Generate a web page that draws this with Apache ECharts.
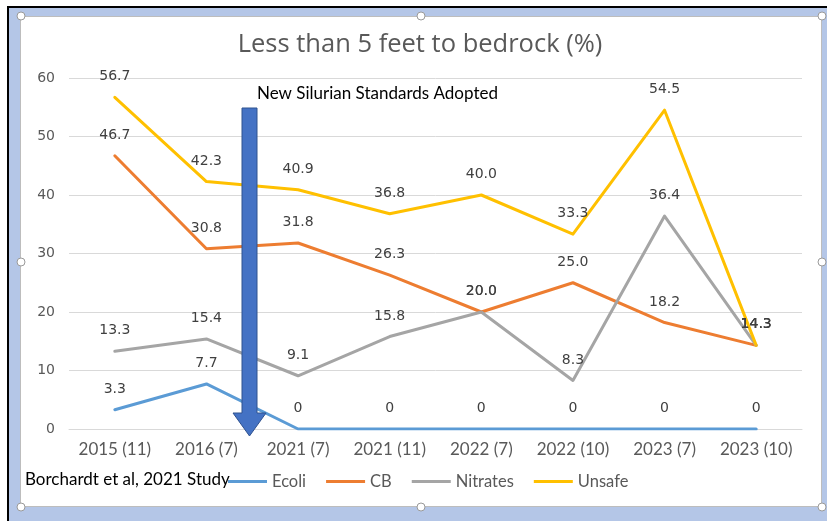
<!DOCTYPE html>
<html>
<head>
<meta charset="utf-8">
<script src="https://cdn.jsdelivr.net/npm/echarts@6/dist/echarts.min.js"></script>
<style>
html,body{margin:0;padding:0;background:#fff;}
#c{width:827px;height:521px;}
</style>
</head>
<body>
<div id="c"></div>
<script>
const categories = ['2015 (11)', '2016 (7)', '2021 (7)', '2021 (11)', '2022 (7)', '2022 (10)', '2023 (7)', '2023 (10)'];
const ecoli = [3.3, 7.7, 0, 0, 0, 0, 0, 0];
const cb = [46.7, 30.8, 31.8, 26.3, 20.0, 25.0, 18.2, 14.3];
const nitrates = [13.3, 15.4, 9.1, 15.8, 20.0, 8.3, 36.4, 14.3];
const unsafe = [56.7, 42.3, 40.9, 36.8, 40.0, 33.3, 54.5, 14.3];
const yTicks = [0, 10, 20, 30, 40, 50, 60];

const chart = echarts.init(document.getElementById('c'), null, {renderer: 'canvas'});

function mkSeries(name, data, color, fmt) {
  return {
    name: name, type: 'line', data: data,
    symbol: 'circle', symbolSize: 1, showSymbol: true,
    lineStyle: {color: color, width: 3, cap: 'round', join: 'round'},
    itemStyle: {color: color},
    emphasis: {disabled: true},
    label: {
      show: true, position: 'top', distance: 13,
      fontFamily: 'DejaVu Sans', fontSize: 14, color: '#404040',
      formatter: p => fmt(p.value)
    }
  };
}
const f1 = v => v.toFixed(1);
const fE = v => v === 0 ? '0' : v.toFixed(1);

const option = {
  animation: false,
  backgroundColor: '#fff',
  title: {
    text: 'Less than 5 feet to bedrock (%)',
    left: 415, top: 27, textAlign: 'center',
    textStyle: {fontFamily: 'Open Sans', fontSize: 25.5, fontWeight: 'normal', color: '#595959'}
  },
  grid: {left: 69, right: 25, top: 78, bottom: 92, containLabel: false},
  legend: {
    left: 223, top: 468, itemWidth: 39, itemHeight: 3, itemGap: 20, icon: 'rect',
    data: ['Ecoli', 'CB', 'Nitrates', 'Unsafe'],
    textStyle: {fontFamily: 'Lato', fontSize: 16.5, color: '#595959'}
  },
  xAxis: {
    type: 'category', data: categories, boundaryGap: true,
    axisLine: {lineStyle: {color: '#D9D9D9', width: 1}},
    axisTick: {show: false},
    axisLabel: {fontFamily: 'Lato', fontSize: 17, color: '#595959', margin: 12, interval: 0}
  },
  yAxis: {
    type: 'value', min: yTicks[0], max: yTicks[yTicks.length - 1], interval: 10,
    axisLine: {show: false}, axisTick: {show: false},
    splitLine: {lineStyle: {color: '#D9D9D9', width: 1}},
    axisLabel: {fontFamily: 'DejaVu Sans', fontSize: 14, color: '#595959', margin: 14}
  },
  series: [
    mkSeries('Ecoli', ecoli, '#5B9BD5', fE),
    mkSeries('CB', cb, '#ED7D31', f1),
    mkSeries('Nitrates', nitrates, '#A5A5A5', f1),
    mkSeries('Unsafe', unsafe, '#FFC000', f1)
  ],
  graphic: [
    // frame
    {type: 'rect', z: -10, silent: true, shape: {x: 9, y: 8, width: 818, height: 513}, style: {fill: '#B4C6E7'}},
    {type: 'rect', z: -9, silent: true, shape: {x: 20.5, y: 16.5, width: 801, height: 490}, style: {fill: '#fff', stroke: '#BDBDBD', lineWidth: 1}},
    {type: 'line', z: -8, silent: true, shape: {x1: 8, y1: 7, x2: 827, y2: 7}, style: {stroke: '#000', lineWidth: 2}},
    {type: 'line', z: -8, silent: true, shape: {x1: 8, y1: 6, x2: 8, y2: 521}, style: {stroke: '#000', lineWidth: 2}},
    // handles
    {type: 'circle', z: -7, silent: true, shape: {cx: 421, cy: 16, r: 4}, style: {fill: '#fff', stroke: '#9A9A9A', lineWidth: 1}},
    {type: 'circle', z: -7, silent: true, shape: {cx: 421, cy: 507, r: 4}, style: {fill: '#fff', stroke: '#9A9A9A', lineWidth: 1}},
    {type: 'circle', z: -7, silent: true, shape: {cx: 21, cy: 262, r: 4}, style: {fill: '#fff', stroke: '#9A9A9A', lineWidth: 1}},
    {type: 'circle', z: -7, silent: true, shape: {cx: 822, cy: 262, r: 4}, style: {fill: '#fff', stroke: '#9A9A9A', lineWidth: 1}},
    {type: 'circle', z: -7, silent: true, shape: {cx: 21, cy: 16, r: 4}, style: {fill: '#fff', stroke: '#9A9A9A', lineWidth: 1}},
    {type: 'circle', z: -7, silent: true, shape: {cx: 822, cy: 16, r: 4}, style: {fill: '#fff', stroke: '#9A9A9A', lineWidth: 1}},
    {type: 'circle', z: -7, silent: true, shape: {cx: 21, cy: 507, r: 4}, style: {fill: '#fff', stroke: '#9A9A9A', lineWidth: 1}},
    {type: 'circle', z: -7, silent: true, shape: {cx: 822, cy: 507, r: 4}, style: {fill: '#fff', stroke: '#9A9A9A', lineWidth: 1}},
    // annotation arrow
    {type: 'polygon', z: 100, silent: true,
     shape: {points: [[242, 108], [257, 108], [257, 413], [266, 413], [249.5, 436], [233, 413], [242, 413]]},
     style: {fill: '#4472C4', stroke: '#2F528F', lineWidth: 1}},
    {type: 'text', z: 100, silent: true, left: 257, top: 85,
     style: {text: 'New Silurian Standards Adopted', fontFamily: 'Lato', fontSize: 17, fill: '#000'}},
    {type: 'text', z: 100, silent: true, left: 25, top: 471,
     style: {text: 'Borchardt et al, 2021 Study', fontFamily: 'Lato', fontSize: 17, fill: '#000'}}
  ]
};
chart.setOption(option);
</script>
</body>
</html>
